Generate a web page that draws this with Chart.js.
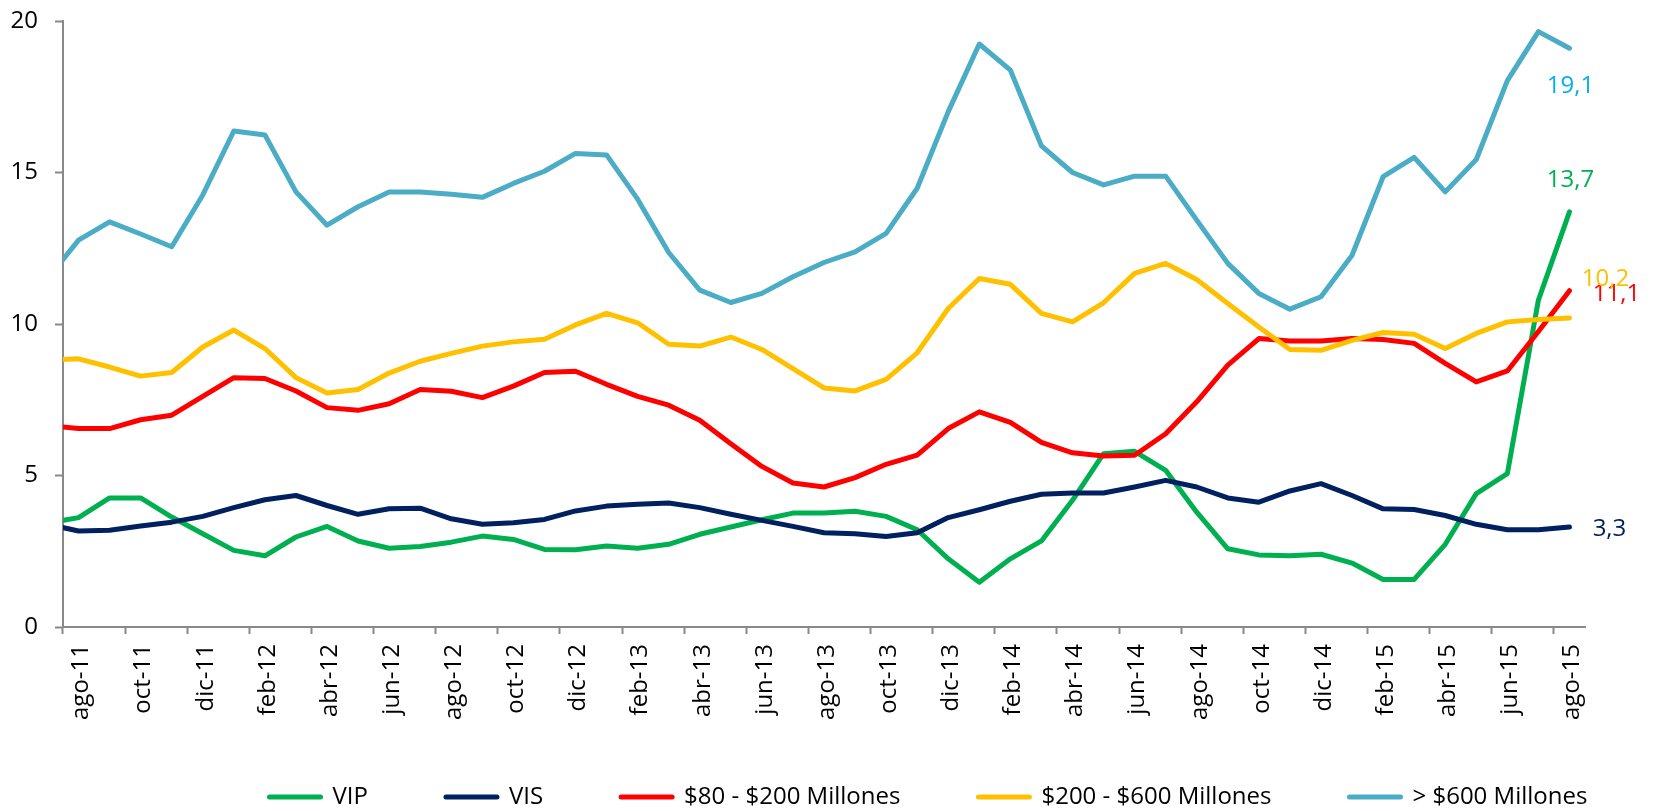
<!DOCTYPE html>
<html>
<head>
<meta charset="utf-8">
<style>
  html, body { margin: 0; padding: 0; background: #ffffff; }
  #wrap { width: 1656px; height: 811px; }
</style>
<script src="https://cdn.jsdelivr.net/npm/chart.js@4.4.1/dist/chart.umd.min.js"></script>
</head>
<body>
<div id="wrap"><canvas id="c" width="1656" height="811"></canvas></div>
<script>
// ---- Data ----
// jul-11 is only partly visible at the left edge of the plot.
const categories = [
  'jul-11','ago-11','sep-11','oct-11','nov-11','dic-11',
  'ene-12','feb-12','mar-12','abr-12','may-12','jun-12','jul-12','ago-12','sep-12','oct-12','nov-12','dic-12',
  'ene-13','feb-13','mar-13','abr-13','may-13','jun-13','jul-13','ago-13','sep-13','oct-13','nov-13','dic-13',
  'ene-14','feb-14','mar-14','abr-14','may-14','jun-14','jul-14','ago-14','sep-14','oct-14','nov-14','dic-14',
  'ene-15','feb-15','mar-15','abr-15','may-15','jun-15','jul-15','ago-15'
];

const seriesNames = ['VIP', 'VIS', '$80 - $200 Millones', '$200 - $600 Millones', '> $600 Millones'];

const vip = [3.43,
  3.61, 4.26, 4.26, 3.63, 3.08, 2.53, 2.35, 2.97, 3.32, 2.84, 2.60, 2.66, 2.80, 3.00, 2.89, 2.56, 2.55,
  2.67, 2.60, 2.73, 3.06, 3.30, 3.54, 3.76, 3.76, 3.82, 3.65, 3.21, 2.25, 1.48, 2.25, 2.84, 4.18, 5.72,
  5.80, 5.17, 3.79, 2.58, 2.38, 2.35, 2.40, 2.11, 1.57, 1.57, 2.73, 4.40, 5.06, 10.79, 13.7];

const vis = [3.39,
  3.17, 3.19, 3.33, 3.46, 3.65, 3.94, 4.20, 4.34, 4.01, 3.72, 3.90, 3.92, 3.57, 3.39, 3.44, 3.55, 3.83,
  3.99, 4.05, 4.09, 3.94, 3.72, 3.52, 3.32, 3.11, 3.08, 2.99, 3.11, 3.61, 3.87, 4.15, 4.38, 4.42, 4.42,
  4.62, 4.84, 4.62, 4.26, 4.12, 4.49, 4.73, 4.34, 3.90, 3.88, 3.68, 3.39, 3.21, 3.21, 3.3];

const m80_200 = [6.65,
  6.55, 6.55, 6.84, 6.99, 7.61, 8.23, 8.20, 7.79, 7.24, 7.15, 7.37, 7.84, 7.78, 7.57, 7.95, 8.40, 8.44,
  8.01, 7.61, 7.32, 6.82, 6.05, 5.30, 4.75, 4.62, 4.93, 5.37, 5.67, 6.55, 7.10, 6.75, 6.09, 5.75, 5.64,
  5.67, 6.38, 7.43, 8.64, 9.52, 9.44, 9.44, 9.52, 9.49, 9.36, 8.70, 8.09, 8.45, 9.75, 11.1];

const m200_600 = [8.81,
  8.85, 8.58, 8.28, 8.40, 9.24, 9.80, 9.19, 8.23, 7.72, 7.84, 8.38, 8.77, 9.03, 9.27, 9.41, 9.50, 9.97,
  10.35, 10.04, 9.33, 9.27, 9.57, 9.16, 8.53, 7.89, 7.79, 8.17, 9.05, 10.51, 11.50, 11.31, 10.35, 10.07, 10.70,
  11.67, 12.00, 11.47, 10.68, 9.90, 9.16, 9.13, 9.46, 9.72, 9.66, 9.19, 9.69, 10.07, 10.15, 10.2];

const m600 = [11.49,
  12.77, 13.37, 12.97, 12.55, 14.26, 16.37, 16.24, 14.36, 13.26, 13.87, 14.36, 14.36, 14.28, 14.18, 14.64, 15.04, 15.63,
  15.58, 14.12, 12.36, 11.12, 10.71, 11.01, 11.56, 12.03, 12.38, 12.99, 14.48, 17.01, 19.24, 18.38, 15.88, 15.00, 14.59,
  14.88, 14.88, 13.43, 12.00, 11.01, 10.49, 10.90, 12.27, 14.86, 15.50, 14.36, 15.43, 18.03, 19.65, 19.1];

const yTickMin = 0, yTickMax = 20, yTickStep = 5;

// ---- Styles ----
const lineColors  = ['#00B050', '#002060', '#FF0000', '#FFC000', '#4BACC6'];
const labelColors = ['#00B050', '#002060', '#FF0000', '#FFC000', '#00B0F0'];
// end-label offsets from the last point (px)
const endLabelOffsets = [
  {dx: 1, dy: -33}, {dx: 40, dy: 0.5}, {dx: 47, dy: 2}, {dx: 36, dy: -41}, {dx: 1, dy: 36}
];
const axisGray = '#898989';
const FONT = "'Open Sans', 'Noto Sans', sans-serif";
Chart.defaults.font.family = FONT;
Chart.defaults.font.size = 24;
Chart.defaults.color = '#000000';

const allSeries = [vip, vis, m80_200, m200_600, m600];

const datasets = allSeries.map((vals, i) => ({
  label: seriesNames[i],
  data: vals,
  borderColor: lineColors[i],
  backgroundColor: lineColors[i],
  borderWidth: 5,
  pointRadius: 0,
  pointHoverRadius: 0,
  tension: 0,
  fill: false,
  borderCapStyle: 'round',
  borderJoinStyle: 'round',
  order: allSeries.length - 1 - i,
  clip: {left: 0, right: 8, top: 8, bottom: 8}
}));

const endLabels = {
  id: 'endLabels',
  afterDatasetsDraw(chart) {
    const ctx = chart.ctx;
    ctx.save();
    ctx.font = '24px ' + FONT;
    ctx.textAlign = 'center';
    ctx.textBaseline = 'alphabetic';
    chart.data.datasets.forEach((ds, i) => {
      const meta = chart.getDatasetMeta(i);
      const last = meta.data[meta.data.length - 1];
      const v = ds.data[ds.data.length - 1];
      const txt = v.toFixed(1).replace('.', ',');
      ctx.fillStyle = labelColors[i];
      ctx.fillText(txt, last.x + endLabelOffsets[i].dx, last.y + endLabelOffsets[i].dy + 8.6);
    });
    ctx.restore();
  }
};

const legendPos = {
  id: 'legendPos',
  afterLayout(chart) {
    const lg = chart.legend;
    if (lg) { lg.left = 191.5; lg.right = 1900; lg.top = 707; }
  }
};

new Chart(document.getElementById('c'), {
  type: 'line',
  data: { labels: categories, datasets },
  plugins: [endLabels, legendPos],
  options: {
    responsive: false,
    animation: false,
    devicePixelRatio: 1,
    layout: { padding: { left: 0, right: 71, top: 21, bottom: 0 } },
    interaction: { mode: 'nearest', intersect: true },
    plugins: {
      tooltip: { enabled: false },
      legend: {
        position: 'bottom',
        align: 'start',
        maxHeight: 80,
        labels: {
          usePointStyle: true,
          pointStyle: 'line',
          pointStyleWidth: 51,
          padding: 78,
          color: '#000000',
          font: { size: 24, family: FONT },
          generateLabels(chart) {
            const items = Chart.defaults.plugins.legend.labels.generateLabels(chart);
            items.sort((a, b) => a.datasetIndex - b.datasetIndex);
            items.forEach(it => {
              it.pointStyle = 'line';
              it.lineWidth = 5;
              it.lineCap = 'round';
              it.strokeStyle = lineColors[it.datasetIndex];
              it.fillStyle = lineColors[it.datasetIndex];
            });
            return items;
          }
        }
      }
    },
    scales: {
      x: {
        type: 'category',
        min: categories[1],
        offset: true,
        border: { display: true, color: axisGray, width: 2 },
        grid: {
          offset: true,
          drawOnChartArea: false,
          drawTicks: true,
          tickLength: 7,
          tickWidth: 2,
          tickColor: (c) => (typeof c.index === 'number' && c.index % 2 === 0) ? axisGray : 'rgba(0,0,0,0)'
        },
        ticks: {
          autoSkip: false,
          maxRotation: 90,
          minRotation: 90,
          padding: 10,
          labelOffset: 3,
          color: '#000000',
          font: { size: 24, family: FONT },
          callback: function (value, index) {
            return index % 2 === 0 ? this.getLabelForValue(value) : '';
          }
        },
        afterFit: (s) => { s.height = 104; s.paddingLeft = 0; s.paddingRight = 0; }
      },
      y: {
        min: yTickMin,
        max: yTickMax,
        border: { display: true, color: axisGray, width: 2 },
        grid: { drawOnChartArea: false, drawTicks: true, tickLength: 8, tickWidth: 2, tickColor: axisGray },
        ticks: { stepSize: yTickStep, padding: 17, color: '#000000', font: { size: 24, family: FONT } },
        afterFit: (s) => { s.width = 63; s.paddingTop = 0; s.paddingBottom = 0; }
      }
    }
  }
});
</script>
</body>
</html>
